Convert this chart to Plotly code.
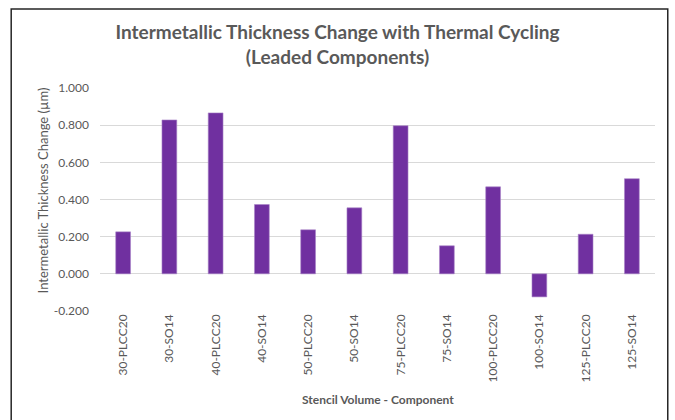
import plotly.graph_objects as go

### Chart data
categories = ['30-PLCC20', '30-SO14', '40-PLCC20', '40-SO14', '50-PLCC20', '50-SO14',
              '75-PLCC20', '75-SO14', '100-PLCC20', '100-SO14', '125-PLCC20', '125-SO14']
thickness_change = [0.226, 0.828, 0.866, 0.373, 0.237, 0.355,
                    0.797, 0.151, 0.468, -0.124, 0.213, 0.512]
y_ticks = [-0.2, 0.0, 0.2, 0.4, 0.6, 0.8, 1.0]
y_tick_labels = ['-0.200', '0.000', '0.200', '0.400', '0.600', '0.800', '1.000']

font_family = 'Lato'
grey_text = '#595959'

fig = go.Figure()

fig.add_trace(
    go.Bar(
        x=categories,
        y=thickness_change,
        marker=dict(color='#7030A0', line=dict(color='#A985C8', width=0.6)),
        showlegend=False
    ))

fig.update_layout(
    width=675,
    height=420,
    margin=dict(l=100, r=20, t=88, b=109),
    paper_bgcolor='white',
    plot_bgcolor='white',
    bargap=0.68,
    font=dict(family=font_family, color=grey_text, size=12),
    title={
        'text': '<b>Intermetallic Thickness Change with Thermal Cycling<br>(Leaded Components)</b>',
        'x': 0.5,
        'xanchor': 'center',
        'y': 0.907,
        'yanchor': 'middle',
        'font': dict(size=19, color=grey_text, family=font_family)},
    xaxis=dict(
        tickangle=-90,
        showgrid=False,
        showline=False,
        ticks='',
        tickfont=dict(size=12, color=grey_text),
    ),
    yaxis=dict(
        range=[-0.2, 1.0],
        tickvals=y_ticks,
        ticktext=y_tick_labels,
        showgrid=True,
        gridcolor='#D9D9D9',
        gridwidth=1,
        zeroline=False,
        showline=False,
        ticks='',
        ticklabelstandoff=10,
        tickfont=dict(size=12, color=grey_text),
    ),
    annotations=[
        dict(text='Intermetallic Thickness Change (µm)', xref='paper', yref='paper',
             x=-0.103, y=0.54, textangle=-90, showarrow=False,
             xanchor='center', yanchor='middle', font=dict(size=13, color=grey_text)),
        dict(text='<b>Stencil Volume - Component</b>', xref='paper', yref='paper',
             x=0.5, y=-0.395, showarrow=False,
             xanchor='center', yanchor='middle', font=dict(size=12, color=grey_text)),
    ],
    shapes=[
        # chart outline
        dict(type='rect', xref='paper', yref='paper',
             x0=-0.160, x1=1.023, y0=-0.55, y1=1.354,
             line=dict(color='#262626', width=1.5), layer='below'),
    ]
)

# page has a default 8px body margin; drop it so the chart sits at the window origin
fig.write_html("out.html", config={'displayModeBar': False},
               post_script="document.body.style.margin='0';")
